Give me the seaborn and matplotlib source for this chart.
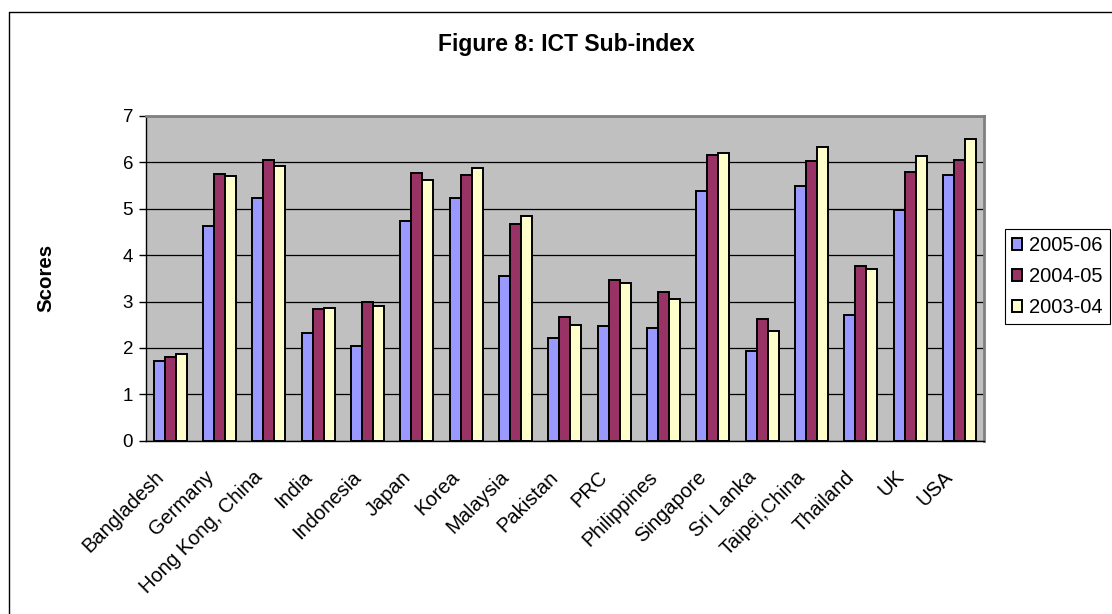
import numpy as np
import pandas as pd
import matplotlib.pyplot as plt
import matplotlib.transforms as mtransforms
import seaborn as sns
from matplotlib.lines import Line2D

# Data
countries = ["Bangladesh", "Germany", "Hong Kong, China", "India", "Indonesia",
             "Japan", "Korea", "Malaysia", "Pakistan", "PRC", "Philippines",
             "Singapore", "Sri Lanka", "Taipei,China", "Thailand", "UK", "USA"]
years = ["2005-06", "2004-05", "2003-04"]
scores_2005_06 = [1.72, 4.63, 5.23, 2.33, 2.04, 4.74, 5.23, 3.55, 2.21, 2.47,
                  2.42, 5.39, 1.93, 5.49, 2.70, 4.97, 5.72]
scores_2004_05 = [1.81, 5.76, 6.05, 2.83, 2.98, 5.78, 5.73, 4.68, 2.66, 3.46,
                  3.21, 6.15, 2.62, 6.02, 3.77, 5.79, 6.06]
scores_2003_04 = [1.86, 5.70, 5.93, 2.87, 2.90, 5.62, 5.87, 4.84, 2.49, 3.41,
                  3.06, 6.21, 2.37, 6.34, 3.70, 6.14, 6.50]
colors = ["#9999FF", "#993366", "#FFFFCC"]

df = pd.DataFrame({
    "country": countries * 3,
    "year": np.repeat(years, len(countries)),
    "score": scores_2005_06 + scores_2004_05 + scores_2003_04,
})

sns.set_style("white")
plt.rcParams["font.family"] = ["Liberation Sans", "DejaVu Sans"]
plt.rcParams["text.color"] = "black"
plt.rcParams["xtick.color"] = "black"
plt.rcParams["ytick.color"] = "black"
plt.rcParams["axes.labelcolor"] = "black"

fig = plt.figure(figsize=(11.12, 6.14), dpi=100)
ax = fig.add_axes([145.7 / 1112, 1 - 440.7 / 614, (984 - 145.7) / 1112, (440.7 - 116) / 614])
ax.set_facecolor("#C0C0C0")

sns.barplot(data=df, x="country", y="score", hue="year", palette=colors,
            edgecolor="black", linewidth=1.4, width=0.67, saturation=1,
            errorbar=None, ax=ax, zorder=3)

ax.set_xlim(-0.5, len(countries) - 0.5)
ax.set_ylim(0, 7)
ax.set_yticks(range(0, 8))
ax.yaxis.grid(True, color="black", linewidth=0.9, zorder=0)
ax.set_axisbelow(True)

# ticks between categories like Excel
ax.set_xticks(np.arange(-0.5, len(countries)), minor=True)
ax.tick_params(axis="x", which="major", length=0, pad=4)
ax.tick_params(axis="x", which="minor", length=5, width=1, color="black", direction="out")
ax.tick_params(axis="y", length=5, width=1, color="black", direction="out", left=True,
               labelsize=13.5, pad=4)
ax.set_xticklabels(countries, rotation=45, ha="right", va="top",
                   rotation_mode="anchor", fontsize=14.5)
shift = mtransforms.ScaledTranslation(-16 / 100, -21 / 100, fig.dpi_scale_trans)
for lbl in ax.get_xticklabels():
    lbl.set_transform(lbl.get_transform() + shift)

for s in ["left", "bottom"]:
    ax.spines[s].set_color("black")
    ax.spines[s].set_linewidth(1)
for s in ["top", "right"]:
    ax.spines[s].set_color("#808080")
    ax.spines[s].set_linewidth(2)

ax.set_xlabel("")
ax.set_ylabel("")
fig.text(46 / 1112, 1 - 277.5 / 614, "Scores", rotation=90, ha="center", va="center",
         fontsize=14.8, fontweight="bold")
fig.text(566 / 1112, 1 - 44 / 614, "Figure 8: ICT Sub-index", ha="center", va="center",
         fontsize=16.5, fontweight="bold")

handles, labels = ax.get_legend_handles_labels()
ax.legend_.remove()
leg = fig.legend(handles, labels, loc="upper left",
                 bbox_to_anchor=(1005 / 1112, 1 - 229 / 614), fontsize=14.5,
                 frameon=True, fancybox=False, edgecolor="black", framealpha=1,
                 handlelength=0.5, handleheight=0.5, handletextpad=0.35,
                 labelspacing=0.6, borderpad=0.35, borderaxespad=0)
leg.get_frame().set_linewidth(0.8)

# chart area border (only left and top visible in the crop)
fig.add_artist(Line2D([9 / 1112, 9 / 1112], [0, 1 - 12 / 614], transform=fig.transFigure,
                      color="black", linewidth=1))
fig.add_artist(Line2D([9 / 1112, 1], [1 - 12 / 614, 1 - 12 / 614], transform=fig.transFigure,
                      color="black", linewidth=1))

fig.savefig("out.png", dpi=100)
